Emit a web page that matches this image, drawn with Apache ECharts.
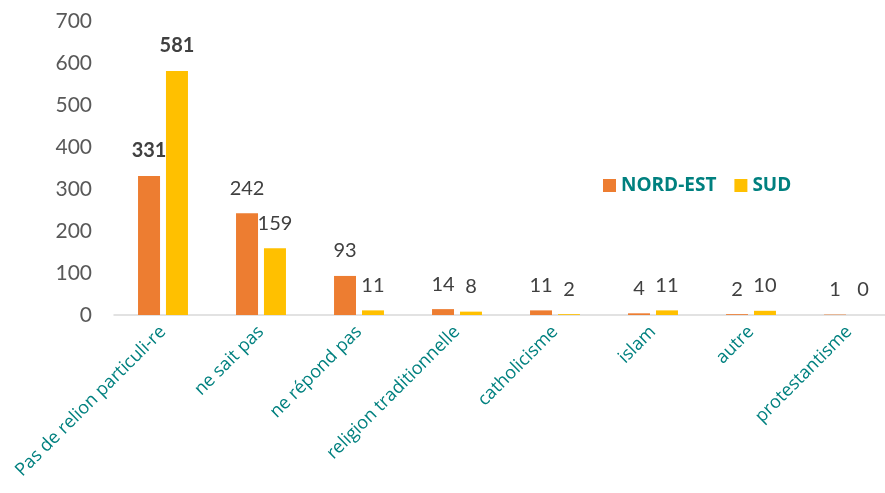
<!DOCTYPE html>
<html>
<head>
<meta charset="utf-8">
<script src="https://cdn.jsdelivr.net/npm/echarts@6/dist/echarts.min.js"></script>
<style>
  html, body { margin: 0; padding: 0; background: #fff; overflow: hidden; }
  /* the Excel plot area runs past the right edge of the picture */
  #chart { width: 900px; height: 493px; }
</style>
</head>
<body>
<div id="chart"></div>
<script>
const categories = ['Pas de relion particuli-re', 'ne sait pas', 'ne répond pas', 'religion traditionnelle', 'catholicisme', 'islam', 'autre', 'protestantisme'];
const nordEst = [331, 242, 93, 14, 11, 4, 2, 1];
const sud = [581, 159, 11, 8, 2, 11, 10, 0];
const yTicks = [0, 100, 200, 300, 400, 500, 600, 700];

const teal = '#00807f';

// first category has bold labels
function buildData(values) {
  return values.map((v, i) => ({ value: v, label: { fontWeight: i === 0 ? 'bold' : 'normal' } }));
}

const myChart = echarts.init(document.getElementById('chart'));
const option = {
  animation: false,
  textStyle: { fontFamily: 'Open Sans' },
  legend: {
    left: 598,
    top: 171,
    itemWidth: 13,
    itemHeight: 13,
    itemGap: 18,
    icon: 'rect',
    textStyle: { color: teal, fontWeight: 'bold', fontSize: 19, fontFamily: 'Open Sans' },
    data: ['NORD-EST', 'SUD']
  },
  grid: {
    left: 114,
    width: 784,
    top: 21,
    height: 294,
    containLabel: false
  },
  xAxis: {
    type: 'category',
    data: categories,
    axisLine: { lineStyle: { color: '#d9d9d9', width: 1.5 } },
    axisTick: { show: false },
    axisLabel: {
      rotate: 45,
      interval: 0,
      margin: 14,
      color: teal,
      fontSize: 18,
      fontFamily: 'Open Sans'
    }
  },
  yAxis: {
    type: 'value',
    min: yTicks[0],
    max: yTicks[yTicks.length - 1],
    interval: 100,
    splitLine: { show: false },
    axisLine: { show: false },
    axisTick: { show: false },
    axisLabel: { color: '#595959', fontSize: 21, margin: 22, fontFamily: 'Lato' }
  },
  series: [
    {
      name: 'NORD-EST',
      type: 'bar',
      barWidth: 22,
      barGap: '27%',
      itemStyle: { color: '#ed7d31' },
      label: { show: true, position: 'top', distance: 15, color: '#404040', fontSize: 20, fontFamily: 'Lato' },
      data: buildData(nordEst)
    },
    {
      name: 'SUD',
      type: 'bar',
      barWidth: 22,
      barGap: '27%',
      itemStyle: { color: '#ffc000' },
      label: { show: true, position: 'top', distance: 15, color: '#404040', fontSize: 20, fontFamily: 'Lato' },
      data: buildData(sud)
    }
  ]
};
myChart.setOption(option);
</script>
</body>
</html>
